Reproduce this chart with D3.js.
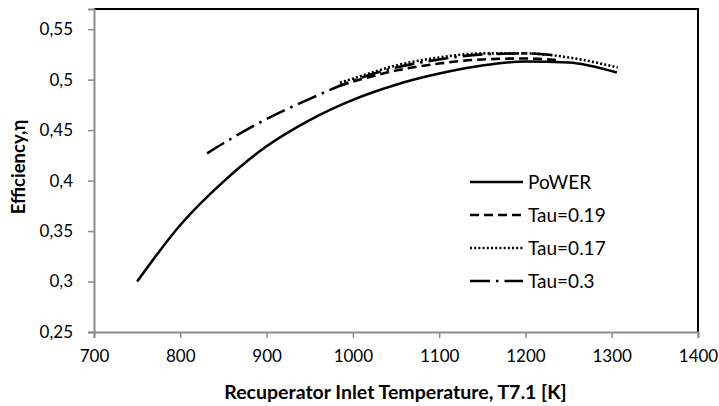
<!DOCTYPE html>
<html>
<head>
<meta charset="utf-8">
<script src="https://cdn.jsdelivr.net/npm/d3@7"></script>
<style>
  html, body { margin: 0; padding: 0; background: #fff; }
  svg { display: block; }
  text { font-family: Lato, "Open Sans", sans-serif; fill: #000; }
</style>
</head>
<body>
<svg id="chart" width="719" height="406"></svg>
<script>
// ---- data ----
const powerT = [750, 800, 850, 900, 950, 1000, 1050, 1100, 1150, 1200, 1250, 1306];
const powerEff = [0.300, 0.356, 0.399, 0.434, 0.460, 0.480, 0.495, 0.506, 0.514, 0.518, 0.517, 0.507];

const tau019T = [985, 1000, 1050, 1100, 1150, 1200, 1240];
const tau019Eff = [0.494, 0.498, 0.509, 0.516, 0.520, 0.521, 0.519];

const tau017T = [985, 1000, 1050, 1100, 1150, 1200, 1250, 1307];
const tau017Eff = [0.497, 0.501, 0.514, 0.522, 0.526, 0.526, 0.522, 0.512];

const tau03T = [831, 850, 900, 950, 1000, 1050, 1100, 1150, 1200, 1236];
const tau03Eff = [0.427, 0.437, 0.461, 0.481, 0.499, 0.512, 0.520, 0.525, 0.526, 0.524];

const seriesNames = ["PoWER", "Tau=0.19", "Tau=0.17", "Tau=0.3"];
const xTicks = [700, 800, 900, 1000, 1100, 1200, 1300, 1400];
const yTicks = [0.25, 0.30, 0.35, 0.40, 0.45, 0.50, 0.55];
const xTitle = "Recuperator Inlet Temperature, T7.1 [K]";
const yTitle = "Efficiency,\u03B7";

// ---- chart ----
const svg = d3.select("#chart");
const L = 94, R = 698, T = 9, B = 332;
const x = d3.scaleLinear().domain([700, 1400]).range([L, R]);
const y = d3.scaleLinear().domain([0.25, 0.57]).range([B, T]);

const series = [
  { name: seriesNames[0], t: powerT, v: powerEff, dash: null },
  { name: seriesNames[1], t: tau019T, v: tau019Eff, dash: "9,5" },
  { name: seriesNames[2], t: tau017T, v: tau017Eff, dash: "2,2.2" },
  { name: seriesNames[3], t: tau03T, v: tau03Eff, dash: "20,6,2.5,6" }
];

// frame top/right (black)
svg.append("path")
  .attr("d", `M${L},${T}H${R}V${B}`)
  .attr("fill", "none").attr("stroke", "#000").attr("stroke-width", 2);

// axes
const fmt = d => d3.format(".2~f")(d).replace(".", ",");
const yAxis = svg.append("g").attr("transform", `translate(${L},0)`)
  .call(d3.axisLeft(y).tickValues(yTicks).tickFormat(fmt).tickSize(6).tickPadding(15));
const xAxis = svg.append("g").attr("transform", `translate(0,${B})`)
  .call(d3.axisBottom(x).tickValues(xTicks).tickFormat(d3.format("d")).tickSize(6).tickPadding(12));
[yAxis, xAxis].forEach(g => {
  g.selectAll("path.domain").attr("stroke", "#8c8c8c").attr("stroke-width", 2);
  g.selectAll(".tick line").attr("stroke", "#8c8c8c").attr("stroke-width", 1.5);
  g.selectAll("text").style("font-family", "Lato, 'Open Sans', sans-serif").style("font-size", "17px").attr("fill", "#000");
});

// lines
const line = d3.line().x(d => x(d[0])).y(d => y(d[1])).curve(d3.curveMonotoneX);
series.forEach(s => {
  svg.append("path")
    .datum(s.t.map((t, i) => [t, s.v[i]]))
    .attr("d", line)
    .attr("fill", "none")
    .attr("stroke", "#000")
    .attr("stroke-width", 2.6)
    .attr("stroke-dasharray", s.dash);
});

// legend
const legY = [182, 215, 248, 281];
series.forEach((s, i) => {
  svg.append("line")
    .attr("x1", 470).attr("x2", 523)
    .attr("y1", legY[i]).attr("y2", legY[i])
    .attr("stroke", "#000").attr("stroke-width", 2.6)
    .attr("stroke-dasharray", s.dash);
  svg.append("text")
    .attr("x", 528).attr("y", legY[i]).attr("dy", "0.35em")
    .style("font-size", "19px")
    .text(s.name);
});

// titles
svg.append("text")
  .attr("x", (223 + 568) / 2).attr("y", 392).attr("dy", "0.35em")
  .attr("text-anchor", "middle")
  .style("font-size", "19.5px").style("font-weight", "bold")
  .text(xTitle);
svg.append("text")
  .attr("transform", "translate(19,167) rotate(-90)")
  .attr("dy", "0.35em")
  .attr("text-anchor", "middle")
  .style("font-size", "18.5px").style("font-weight", "bold")
  .text(yTitle);
</script>
</body>
</html>
